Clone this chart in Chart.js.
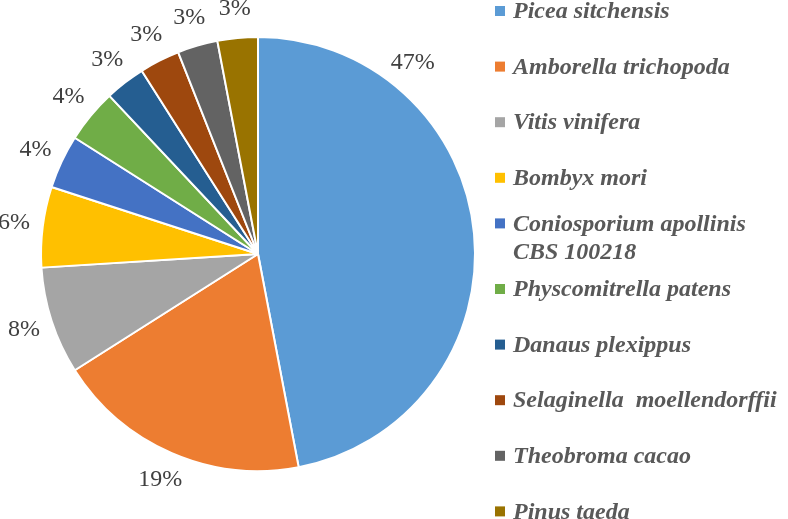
<!DOCTYPE html>
<html>
<head>
<meta charset="utf-8">
<script src="https://cdn.jsdelivr.net/npm/chart.js@4"></script>
<style>
  html, body { margin: 0; padding: 0; background: #ffffff; overflow: hidden; }
</style>
</head>
<body>
<canvas id="c" width="788" height="519"></canvas>
<script>
// ---- data ----
const categories = [
  ["Picea sitchensis"],
  ["Amborella trichopoda"],
  ["Vitis vinifera"],
  ["Bombyx mori"],
  ["Coniosporium apollinis", "CBS 100218"],
  ["Physcomitrella patens"],
  ["Danaus plexippus"],
  ["Selaginella  moellendorffii"],
  ["Theobroma cacao"],
  ["Pinus taeda"]
];
const shares = [47, 19, 8, 6, 4, 4, 3, 3, 3, 3];
const sliceColors = ["#5B9BD5", "#ED7D31", "#A5A5A5", "#FFC000", "#4472C4",
                     "#70AD47", "#255E91", "#9E480E", "#636363", "#997300"];

const PCT_COLOR = '#404040';
const LEG_COLOR = '#595959';

// label/legend layout (not data)
const LABEL_OFFSET = 29;
const LABEL_ANGLE_OVERRIDE = { 0: -51 };
const LEG = { top: 11, pitch: 55.6, lineHeight: 28, multiShift: 4, box: 10, boxX: 495, textX: 513 };

function setFont(ctx, style, weight, size) {
  ctx.font = style + ' ' + weight + ' ' + size + 'px "Times New Roman"';
}

const pctLabels = {
  id: 'pctLabels',
  afterDraw(chart) {
    const ctx = chart.ctx;
    const meta = chart.getDatasetMeta(0);
    const data = chart.data.datasets[0].data;
    const total = data.reduce((a, b) => a + b, 0);
    ctx.save();
    setFont(ctx, 'normal', 'normal', 24);
    ctx.fillStyle = PCT_COLOR;
    ctx.textAlign = 'center';
    ctx.textBaseline = 'middle';
    meta.data.forEach((arc, i) => {
      const p = arc.getProps(['x', 'y', 'startAngle', 'endAngle', 'outerRadius'], true);
      let ang = (p.startAngle + p.endAngle) / 2;
      if (LABEL_ANGLE_OVERRIDE[i] !== undefined) ang = LABEL_ANGLE_OVERRIDE[i] * Math.PI / 180;
      const r = p.outerRadius + LABEL_OFFSET;
      ctx.fillText(Math.round(data[i] / total * 100) + '%', p.x + r * Math.cos(ang), p.y + r * Math.sin(ang));
    });
    ctx.restore();
  }
};

const sideLegend = {
  id: 'sideLegend',
  afterDraw(chart) {
    const ctx = chart.ctx;
    const labels = chart.data.labels;
    const colors = chart.data.datasets[0].backgroundColor;
    ctx.save();
    setFont(ctx, 'italic', 'bold', 24);
    ctx.textBaseline = 'middle';
    ctx.textAlign = 'left';
    labels.forEach((lab, i) => {
      const lines = Array.isArray(lab) ? lab : [lab];
      const slot = LEG.top + i * LEG.pitch;
      const firstY = slot - (lines.length - 1) * LEG.lineHeight / 2 + (lines.length > 1 ? LEG.multiShift : 0);
      ctx.fillStyle = colors[i];
      ctx.fillRect(LEG.boxX, firstY - LEG.box / 2, LEG.box, LEG.box);
      ctx.fillStyle = LEG_COLOR;
      lines.forEach((ln, k) => ctx.fillText(ln, LEG.textX, firstY + k * LEG.lineHeight + 1));
    });
    ctx.restore();
  }
};

new Chart(document.getElementById('c'), {
  type: 'pie',
  data: {
    labels: categories,
    datasets: [{
      data: shares,
      backgroundColor: sliceColors,
      borderColor: '#ffffff',
      borderWidth: 2
    }]
  },
  options: {
    responsive: false,
    animation: false,
    layout: { padding: { left: 40, top: 36, right: 312, bottom: 47 } },
    plugins: { legend: { display: false }, tooltip: { enabled: false } }
  },
  plugins: [pctLabels, sideLegend]
});
</script>
</body>
</html>
